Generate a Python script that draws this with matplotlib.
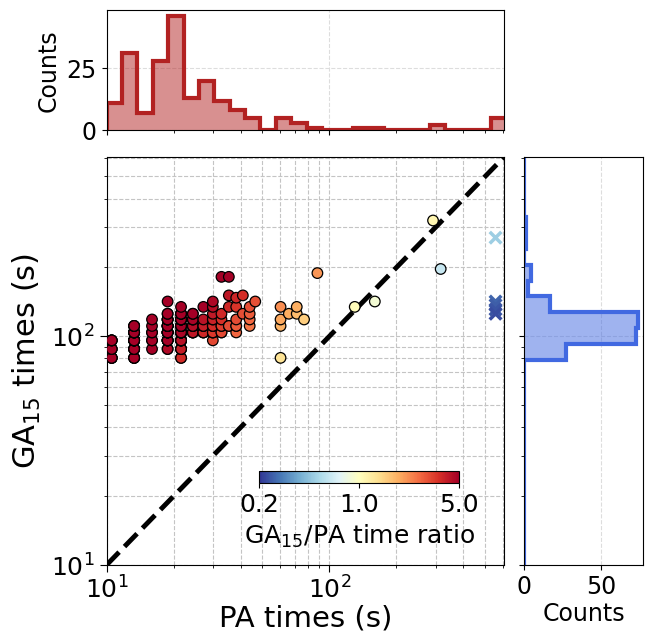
import matplotlib
matplotlib.use('Agg')
import matplotlib.pyplot as plt
import numpy as np
from matplotlib.colors import LogNorm
from matplotlib.ticker import FixedLocator, FormatStrFormatter, NullLocator

# ------------------------------------------------------------
# Run times (s): PA solver vs GA (15 generations)
# each column of PA times holds several instances, listed by GA time
# ------------------------------------------------------------
pa_columns = [10.55, 13.3, 16.0, 18.8, 21.6, 24.4, 27.2, 30.0, 32.8, 35.4,
              38.2, 40.9, 43.9, 46.5, 60.4, 65.8, 71.4, 77.0]
ga_columns = [
    [80.5] * 4 + [88] * 3 + [96] * 4,                                    # 10.55
    [80.5] * 4 + [88] * 6 + [96] * 10 + [104] * 7 + [111] * 4,           # 13.3
    [88] + [96] * 2 + [104] * 2 + [111] + [118.5],                       # 16.0
    [88] * 2 + [96] * 6 + [104] * 7 + [111] * 6 + [118.5] * 4
    + [125.5] * 2 + [142],                                               # 18.8
    [80.5] * 2 + [88] * 4 + [96] * 8 + [104] * 13 + [111] * 7
    + [118.5] * 7 + [125.5] * 4 + [134.5],                               # 21.6
    [104] * 4 + [111] * 4 + [118.5] * 3 + [125.5] * 2,                   # 24.4
    [104] * 3 + [111] * 3 + [118.5] + [134.5],                           # 27.2
    [96] + [104] * 3 + [111] * 3 + [118.5] * 2 + [125.5] + [134.5] + [142],  # 30.0
    [104] * 2 + [111] * 2 + [118.5] + [125.5] + [182],                   # 32.8
    [111] * 2 + [134.5] + [151] + [182],                                 # 35.4
    [104] + [111] * 2 + [118.5] + [134.5] + [147.5],                     # 38.2
    [125.5] + [151],                                                     # 40.9
    [111] + [118.5] + [125.5] + [134.5],                                 # 43.9
    [142],                                                               # 46.5
    [80.5] + [111] + [118.5] + [134.5],                                  # 60.4
    [125.5],                                                             # 65.8
    [125.5] + [134.5],                                                   # 71.4
    [118.5],                                                             # 77.0
]

# single instances further out
pa_single = [88.4, 130.0, 160.0, 292.0, 316.0]
ga_single = [189.0, 134.5, 142.0, 321.0, 197.0]

# PA hit the time limit on these runs
pa_timeout = [557.0, 557.0, 557.0, 557.0, 557.0]
ga_timeout = [270.0, 142.0, 137.0, 131.0, 125.5]

pa_pts = np.array([p for p, g in zip(pa_columns, ga_columns) for _ in g] + pa_single)
ga_pts = np.array([v for g in ga_columns for v in g] + ga_single)
pa_all = np.concatenate([pa_pts, pa_timeout])
ga_all = np.concatenate([ga_pts, ga_timeout])

lims = (10, 610)
bins = np.logspace(1, np.log10(626), 27)

plt.rcParams.update({
    'font.family': 'DejaVu Sans',
    'font.size': 17,
})

fig = plt.figure(figsize=(6.46, 6.33), dpi=100)
ax = fig.add_axes([0.1649, 0.1074, 0.6158, 0.6450])
ax_top = fig.add_axes([0.1649, 0.7942, 0.6158, 0.1893], sharex=ax)
ax_right = fig.add_axes([0.8119, 0.1074, 0.1839, 0.6450], sharey=ax)

norm = LogNorm(vmin=0.2, vmax=5.0)
cmap = 'RdYlBu_r'

# main scatter
ax.plot(lims, lims, 'k--', linewidth=3.5, zorder=2)
sc = ax.scatter(pa_pts, ga_pts, c=ga_pts / pa_pts, cmap=cmap, norm=norm,
                s=58, edgecolors='black', linewidths=0.9, zorder=3)
ax.scatter(pa_timeout, ga_timeout, c=np.array(ga_timeout) / np.array(pa_timeout),
           cmap=cmap, norm=norm, marker='x', s=70, linewidths=2.5, zorder=3)

ax.set_xscale('log')
ax.set_yscale('log')
ax.set_xlim(lims)
ax.set_ylim(lims)
ax.grid(True, which='both', linestyle='--', color='#c4c4c4', linewidth=0.8)
ax.set_axisbelow(True)
ax.tick_params(which='major', labelsize=18, length=5)
ax.set_xlabel('PA times (s)', fontsize=21, labelpad=0)
ax.set_ylabel('GA$_{15}$ times (s)', fontsize=22, labelpad=6)

# marginal histograms
ax_top.hist(pa_all, bins=bins, color='firebrick', alpha=0.5)
ax_top.hist(pa_all, bins=bins, histtype='step', color='firebrick', linewidth=3)
ax_top.set_yticks([0, 25])
ax_top.set_ylabel('Counts', fontsize=17)
ax_top.grid(True, linestyle='--', color='#dddddd', linewidth=0.8)
ax_top.set_axisbelow(True)
ax_top.tick_params(axis='x', labelbottom=False)
ax_top.tick_params(labelsize=17)

ax_right.hist(ga_all, bins=bins, orientation='horizontal', color='royalblue', alpha=0.5)
ax_right.hist(ga_all, bins=bins, orientation='horizontal', histtype='step',
              color='royalblue', linewidth=3)
ax_right.set_xticks([0, 50])
ax_right.set_xlabel('Counts', fontsize=17, labelpad=2)
ax_right.grid(True, linestyle='--', color='#dddddd', linewidth=0.8)
ax_right.set_axisbelow(True)
ax_right.tick_params(axis='y', labelleft=False)
ax_right.tick_params(labelsize=17)

# colorbar inside the main panel
cax = fig.add_axes([0.4014, 0.2365, 0.3087, 0.0194])
cb = fig.colorbar(sc, cax=cax, orientation='horizontal')
cb.ax.xaxis.set_major_locator(FixedLocator([0.2, 1.0, 5.0]))
cb.ax.xaxis.set_major_formatter(FormatStrFormatter('%.1f'))
cb.ax.xaxis.set_minor_locator(NullLocator())
cb.ax.tick_params(labelsize=18)
cb.set_label('GA$_{15}$/PA time ratio', fontsize=18)

fig.savefig('out.png', dpi=100)
